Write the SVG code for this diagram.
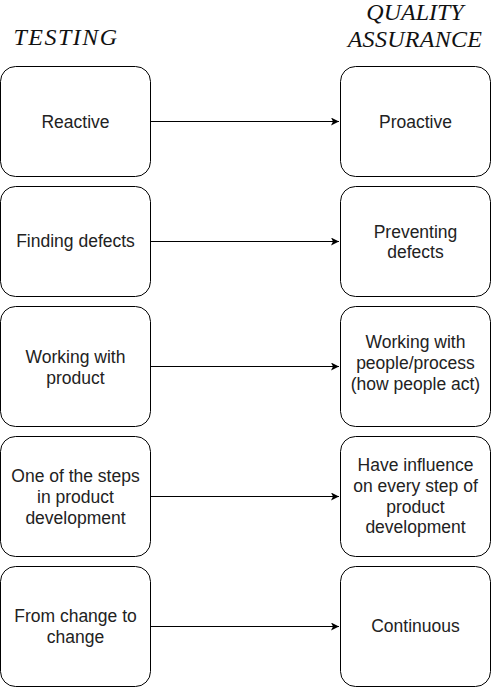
<svg xmlns="http://www.w3.org/2000/svg" width="491" height="687" viewBox="0 0 491 687">
<style>
.box{fill:#fff;stroke:#000;stroke-width:1}
.t{font-family:"Liberation Sans",Arial,sans-serif;font-size:17.5px;fill:#222;text-anchor:middle}
.h{font-family:"Liberation Serif","DejaVu Serif",serif;font-style:italic;font-size:24px;fill:#111;text-anchor:middle}
.c{stroke:#000;stroke-width:1;fill:none}
</style>
<defs>
<marker id="ah" markerWidth="10" markerHeight="10" refX="8" refY="4" orient="auto" markerUnits="userSpaceOnUse">
<path d="M0,0 L8,4 L0,8 L2,4 Z" fill="#000"/>
</marker>
</defs>
<rect width="491" height="687" fill="#fff"/>
<g id="headings">
<text class="h" x="66" y="45" style="letter-spacing:1.5px">TESTING</text>
<text class="h" x="415" y="20">QUALITY</text>
<text class="h" x="415" y="47" style="letter-spacing:0.3px">ASSURANCE</text>
</g>
<g id="connectors">
<path class="c" d="M150.5,121.5 H339" marker-end="url(#ah)"/>
<path class="c" d="M150.5,241.5 H339" marker-end="url(#ah)"/>
<path class="c" d="M150.5,366.5 H339" marker-end="url(#ah)"/>
<path class="c" d="M150.5,496.5 H339" marker-end="url(#ah)"/>
<path class="c" d="M150.5,626.5 H339" marker-end="url(#ah)"/>
</g>
<g id="t1"><rect class="box" x="0.5" y="66.5" width="150" height="110" rx="15"/><text class="t" x="75.5" y="128">Reactive</text></g>
<g id="q1"><rect class="box" x="340.5" y="66.5" width="150" height="110" rx="15"/><text class="t" x="415.5" y="128">Proactive</text></g>
<g id="t2"><rect class="box" x="0.5" y="186.5" width="150" height="110" rx="15"/><text class="t" x="75.5" y="247">Finding defects</text></g>
<g id="q2"><rect class="box" x="340.5" y="186.5" width="150" height="110" rx="15"/><text class="t" x="415.5" y="238">Preventing</text><text class="t" x="415.5" y="258">defects</text></g>
<g id="t3"><rect class="box" x="0.5" y="306.5" width="150" height="120" rx="15"/><text class="t" x="75.5" y="363">Working with</text><text class="t" x="75.5" y="384">product</text></g>
<g id="q3"><rect class="box" x="340.5" y="306.5" width="150" height="120" rx="15"/><text class="t" x="415.5" y="348">Working with</text><text class="t" x="415.5" y="369">people/process</text><text class="t" x="415.5" y="390">(how people act)</text></g>
<g id="t4"><rect class="box" x="0.5" y="436.5" width="150" height="120" rx="15"/><text class="t" x="75.5" y="482">One of the steps</text><text class="t" x="75.5" y="503">in product</text><text class="t" x="75.5" y="524">development</text></g>
<g id="q4"><rect class="box" x="340.5" y="436.5" width="150" height="120" rx="15"/><text class="t" x="415.5" y="471">Have influence</text><text class="t" x="415.5" y="492">on every step of</text><text class="t" x="415.5" y="513">product</text><text class="t" x="415.5" y="533">development</text></g>
<g id="t5"><rect class="box" x="0.5" y="566.5" width="150" height="120" rx="15"/><text class="t" x="75.5" y="622">From change to</text><text class="t" x="75.5" y="643">change</text></g>
<g id="q5"><rect class="box" x="340.5" y="566.5" width="150" height="120" rx="15"/><text class="t" x="415.5" y="632">Continuous</text></g>
</svg>
